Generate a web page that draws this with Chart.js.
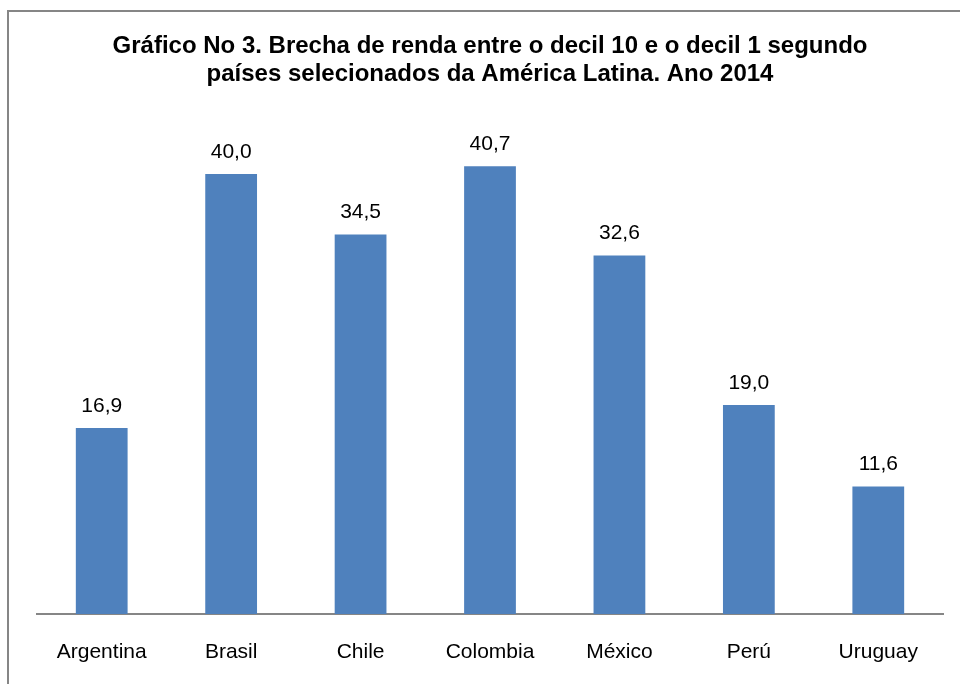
<!DOCTYPE html>
<html>
<head>
<meta charset="utf-8">
<script src="https://cdn.jsdelivr.net/npm/chart.js@4/dist/chart.umd.min.js"></script>
<style>
  html, body { margin: 0; padding: 0; background: #fff; overflow: hidden; }
  #wrap { position: relative; width: 960px; height: 684px; }
</style>
</head>
<body>
<div id="wrap"><canvas id="grafico" width="960" height="684"></canvas></div>
<script>
// paises e brecha decil 10 / decil 1
const paises = ['Argentina', 'Brasil', 'Chile', 'Colombia', 'México', 'Perú', 'Uruguay'];
const brecha = [16.9, 40.0, 34.5, 40.7, 32.6, 19.0, 11.6];
const titulo = ['Gráfico No 3. Brecha de renda entre o decil 10 e o decil 1 segundo',
                'países selecionados da América Latina. Ano 2014'];

const azul = '#4F81BD';
const cinza = '#868686';
const fonte = '"Liberation Sans", Arial, sans-serif';

// moldura (só aparecem os lados esquerdo e superior)
const moldura = {
  id: 'moldura',
  beforeDraw(chart) {
    const c = chart.ctx;
    c.save();
    c.fillStyle = '#fff';
    c.fillRect(0, 0, chart.width, chart.height);
    c.strokeStyle = cinza;
    c.lineWidth = 2;
    c.beginPath();
    c.moveTo(8, chart.height + 5);
    c.lineTo(8, 11);
    c.lineTo(chart.width + 5, 11);
    c.stroke();
    c.restore();
  }
};

// rotulos de valor acima das barras, com virgula decimal
const rotulos = {
  id: 'rotulos',
  afterDatasetsDraw(chart) {
    const c = chart.ctx;
    const meta = chart.getDatasetMeta(0);
    c.save();
    c.font = '21px ' + fonte;
    c.fillStyle = '#000';
    c.textAlign = 'center';
    c.textBaseline = 'middle';
    meta.data.forEach((bar, i) => {
      const txt = brecha[i].toFixed(1).replace('.', ',');
      c.fillText(txt, bar.x, bar.y - 22);
    });
    c.restore();
  }
};

const ctx = document.getElementById('grafico').getContext('2d');
const grafico = new Chart(ctx, {
  type: 'bar',
  data: {
    labels: paises,
    datasets: [{
      data: brecha,
      backgroundColor: azul,
      borderWidth: 0,
      categoryPercentage: 1,
      barPercentage: 0.4
    }]
  },
  options: {
    responsive: false,
    animation: false,
    layout: { padding: { left: 37, right: 17, top: 0, bottom: 22 } },
    plugins: {
      legend: { display: false },
      tooltip: { enabled: false },
      title: {
        display: true,
        text: titulo,
        color: '#000',
        font: { family: fonte, size: 24, weight: 'bold', lineHeight: 28 / 24 },
        padding: { top: 32, bottom: 31 }
      }
    },
    scales: {
      x: {
        grid: { display: false, drawTicks: false, tickLength: 0 },
        border: { display: true, color: cinza, width: 2 },
        ticks: {
          color: '#000',
          padding: 26,
          maxRotation: 0,
          font: { family: fonte, size: 21 }
        },
        afterFit(scale) { scale.height = 48; }
      },
      y: {
        display: false,
        min: 0,
        max: 45
      }
    }
  },
  plugins: [moldura, rotulos]
});
</script>
</body>
</html>
